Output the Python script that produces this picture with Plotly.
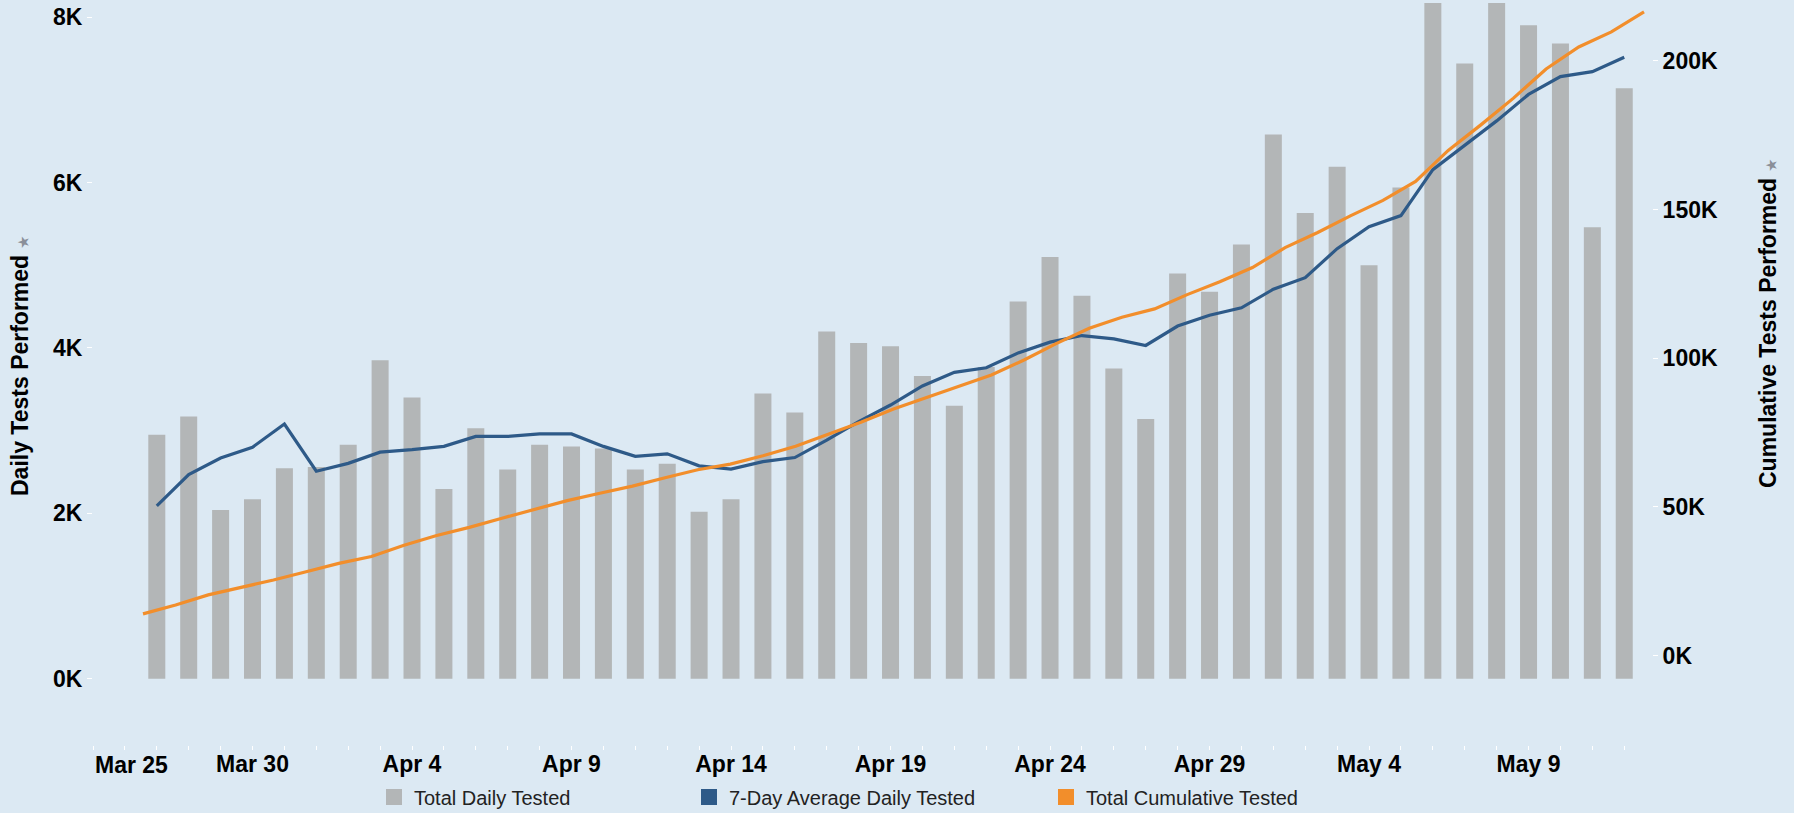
import pandas as pd
import plotly.graph_objects as go

# ---------------- data ----------------
dates = pd.date_range("2020-03-27", "2020-05-12", freq="D")

daily_tested = [2950, 3170, 2040, 2170, 2545, 2560, 2830, 3850, 3400, 2295,
                3030, 2530, 2830, 2810, 2785, 2530, 2600, 2020, 2170, 3450,
                3220, 4200, 4060, 4020, 3660, 3300, 3770, 4560, 5100, 4630,
                3750, 3140, 4900, 4680, 5250, 6580, 5630, 6190, 5000, 5940,
                8600, 7440, 8700, 7900, 7680, 5460, 7140]

avg7_tested = [2090, 2470, 2670, 2800, 3080, 2510, 2605, 2740, 2770, 2810,
               2930, 2930, 2960, 2960, 2810, 2690, 2720, 2575, 2535, 2625,
               2675, 2885, 3110, 3310, 3540, 3705, 3760, 3940, 4070, 4150,
               4110, 4030, 4265, 4395, 4485, 4710, 4850, 5200, 5465, 5600,
               6155, 6450, 6745, 7065, 7280, 7340, 7515]

cumulative_tested = [14000, 17000, 20400, 22900, 25400, 28200, 31000, 33300, 37100, 40400,
                     43100, 46200, 49100, 52100, 54600, 57000, 59800, 62500, 64400, 67200,
                     70400, 74500, 78500, 82900, 86800, 90600, 94400, 99400, 105000, 110100,
                     113800, 116600, 121400, 125700, 130500, 137200, 142300, 147900, 153100, 159500,
                     169900, 178500, 187500, 197300, 204700, 209800, 216500]

x_tick_dates = ["2020-03-30", "2020-04-04", "2020-04-09", "2020-04-14", "2020-04-19",
                "2020-04-24", "2020-04-29", "2020-05-04", "2020-05-09"]
x_tick_labels = ["Mar 30", "Apr 4", "Apr 9", "Apr 14", "Apr 19",
                 "Apr 24", "Apr 29", "May 4", "May 9"]
first_tick_date = "2020-03-25"
first_tick_label = "Mar 25"

left_ticks = [0, 2000, 4000, 6000, 8000]
left_tick_labels = ["0K", "2K", "4K", "6K", "8K"]
right_ticks = [0, 50000, 100000, 150000, 200000]
right_tick_labels = ["0K", "50K", "100K", "150K", "200K"]

series_names = ["Total Daily Tested", "7-Day Average Daily Tested", "Total Cumulative Tested"]

# ---------------- styles ----------------
BG = "#dce9f3"
GREY = "#b3b6b7"
BLUE = "#2e5a88"
ORANGE = "#f28e2b"
FONT = "Liberation Sans, Arial, sans-serif"
DAY = pd.Timedelta(days=1)

fig = go.Figure()

fig.add_trace(go.Bar(
    x=dates, y=daily_tested, name=series_names[0],
    marker=dict(color=GREY, line=dict(width=0)),
    width=0.533 * 86400000, showlegend=False,
))
fig.add_trace(go.Scatter(
    x=dates, y=avg7_tested, name=series_names[1], mode="lines",
    line=dict(color=BLUE, width=3.2), showlegend=False,
))
fig.add_trace(go.Scatter(
    x=dates, y=cumulative_tested, name=series_names[2], mode="lines",
    line=dict(color=ORANGE, width=3.2), xaxis="x2", yaxis="y2", showlegend=False,
))

# legend entries (square swatches), one legend per item
legend_colors = [GREY, BLUE, ORANGE]
legend_names = ["legend", "legend2", "legend3"]
for name, col, lg in zip(series_names, legend_colors, legend_names):
    fig.add_trace(go.Scatter(
        x=[None], y=[None], mode="markers", name=name,
        marker=dict(symbol="square", size=16, color=col),
        legend=lg, showlegend=True,
    ))

L, R, T, B = 93, 142, 3, 68
W, H = 1794, 813
pw = W - L - R
ph = H - T - B

def px_x(px):
    return (px - L) / pw

def px_y(py):
    return (H - B - py) / ph

x_start = pd.Timestamp(first_tick_date)
x_end = dates[-1] + 0.87 * DAY
x2_start = dates[0] - 1.532 * DAY
x2_end = dates[-1] + 0.245 * DAY

legend_common = dict(orientation="h", yref="container", yanchor="middle",
                     y=(H - 797) / H, xref="container", xanchor="left",
                     font=dict(family=FONT, size=20, color="#222222"),
                     bgcolor="rgba(0,0,0,0)", borderwidth=0, itemclick=False)

fig.update_layout(
    width=W, height=H,
    margin=dict(l=L, r=R, t=T, b=B, pad=0, autoexpand=False),
    paper_bgcolor=BG, plot_bgcolor=BG,
    barmode="overlay",
    font=dict(family=FONT, color="#000000"),
    xaxis=dict(
        type="date", range=[x_start, x_end],
        tickvals=x_tick_dates, ticktext=x_tick_labels,
        tickfont=dict(family=FONT, size=23, color="#000000", weight="bold"),
        ticks="", ticklen=0, ticklabelstandoff=3,
        minor=dict(dtick=86400000, tick0=first_tick_date, ticks="outside",
                   ticklen=4, tickcolor="white", tickwidth=1),
        showgrid=False, zeroline=False, showline=False, automargin=False,
    ),
    xaxis2=dict(
        type="date", range=[x2_start, x2_end], overlaying="x",
        visible=False, showgrid=False, zeroline=False,
    ),
    yaxis=dict(
        range=[-800, 8170], tickvals=left_ticks, ticktext=left_tick_labels,
        tickfont=dict(family=FONT, size=23, color="#000000", weight="bold"),
        ticks="outside", ticklen=5, tickcolor="white",
        showgrid=False, zeroline=False, showline=False, automargin=False,
    ),
    yaxis2=dict(
        range=[-30100, 219500], tickvals=right_ticks, ticktext=right_tick_labels,
        overlaying="y", side="right", anchor="x2",
        tickfont=dict(family=FONT, size=23, color="#000000", weight="bold"),
        ticks="outside", ticklen=5, tickcolor="white",
        showgrid=False, zeroline=False, showline=False, automargin=False,
    ),
    legend=dict(legend_common, x=374 / W),
    legend2=dict(legend_common, x=689 / W),
    legend3=dict(legend_common, x=1046 / W),
    annotations=[
        dict(x=first_tick_date, xref="x", y=px_y(765), yref="paper",
             text=first_tick_label, showarrow=False, xanchor="left", yanchor="middle",
             font=dict(family=FONT, size=23, color="#000000", weight="bold")),
        dict(x=px_x(20), y=px_y(366), xref="paper", yref="paper",
             text="Daily Tests Performed <span style='color:#8a8f99;font-size:13px'>★</span>",
             textangle=-90, showarrow=False, xanchor="center", yanchor="middle",
             font=dict(family=FONT, size=23, color="#000000", weight="bold")),
        dict(x=px_x(1768), y=px_y(324), xref="paper", yref="paper",
             text="Cumulative Tests Performed <span style='color:#8a8f99;font-size:13px'>★</span>",
             textangle=-90, showarrow=False, xanchor="center", yanchor="middle",
             font=dict(family=FONT, size=23, color="#000000", weight="bold")),
    ],
)

fig.write_html(
    "out.html",
    config={"displayModeBar": False},
    post_script="document.body.style.margin='0';document.body.style.overflow='hidden';",
)
